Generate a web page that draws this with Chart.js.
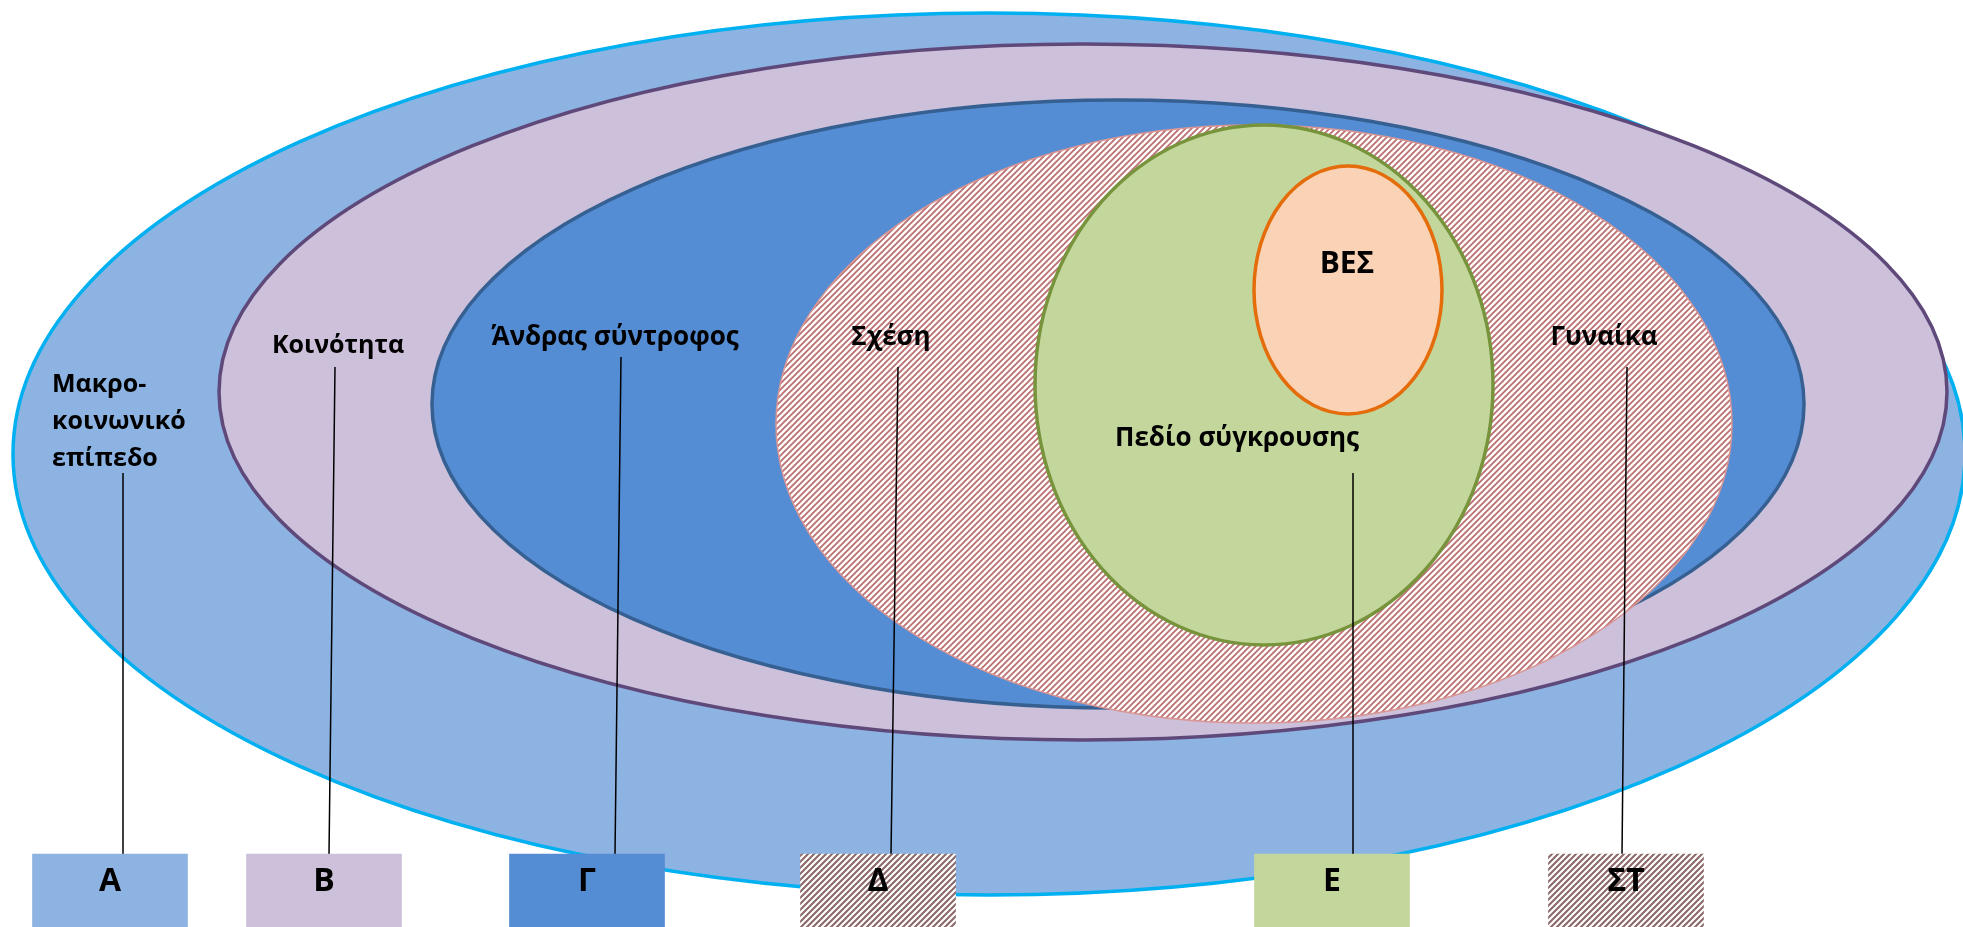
<!DOCTYPE html>
<html>
<head>
<meta charset="utf-8">
<script src="https://cdn.jsdelivr.net/npm/chart.js@4/dist/chart.umd.min.js"></script>
<style>
  html, body { margin: 0; padding: 0; background: #ffffff; }
  #wrap { width: 1963px; height: 927px; position: relative; }
</style>
</head>
<body>
<div id="wrap"><canvas id="levels"></canvas></div>
<script>
// nested levels, outermost first (units of the x/y axes)
const levelNames = ['Μακρο-κοινωνικό επίπεδο', 'Κοινότητα', 'Άνδρας σύντροφος', 'Σχέση / Γυναίκα', 'Πεδίο σύγκρουσης', 'ΒΕΣ']
const levelCx = [989, 1083, 1118, 1254, 1264, 1348]
const levelCy = [454, 392, 404, 424, 385, 290]
const levelRx = [976, 864, 686, 478, 229, 94]
const levelRy = [441, 348, 304, 299, 260, 124]

// text labels inside the ellipses
const labelText = ['Μακρο-\nκοινωνικό\nεπίπεδο', 'Κοινότητα', 'Άνδρας σύντροφος', 'Σχέση', 'Γυναίκα', 'Πεδίο σύγκρουσης', 'ΒΕΣ']
const labelX = [52, 338, 615, 891, 1604, 1237, 1347]
const labelY = [385, 346, 338, 338, 338, 439, 264]
const labelSize = [25, 25, 26, 26, 26, 26, 30]

// legend boxes and their leader lines
const boxLetters = ['Α', 'Β', 'Γ', 'Δ', 'Ε', 'ΣΤ']
const boxX = [110, 324, 587, 878, 1332, 1626]
const boxTop = [854, 854, 854, 854, 854, 854]
const boxBottom = [940, 940, 940, 940, 940, 940]
const leaderTopX = [123, 335, 621, 898, 1353, 1627]
const leaderTopY = [473, 367, 357, 367, 473, 367]
const leaderBottomX = [123, 329, 615, 891, 1353, 1622]

function hatch(color, size, lw) {
    const c = document.createElement('canvas')
    c.width = size; c.height = size
    const g = c.getContext('2d')
    g.fillStyle = '#ffffff'
    g.fillRect(0, 0, size, size)
    g.strokeStyle = color
    g.lineWidth = lw
    g.beginPath()
    g.moveTo(-1, size + 1); g.lineTo(size + 1, -1)
    g.moveTo(-2, 2); g.lineTo(2, -2)
    g.moveTo(size - 2, size + 2); g.lineTo(size + 2, size - 2)
    g.stroke()
    return g.createPattern(c, 'repeat')
}

const redHatch = hatch('#bd7172', 6, 1.9)
const brownHatch = hatch('#8a6968', 6, 2.1)

const fillColors = ['#8db3e2', '#ccc0da', '#548dd4', redHatch, '#c3d69b', '#fad3b6']
const strokeColors = ['#00b0f0', '#5f497a', '#366092', '#d99694', '#77933c', '#e46c0a']
const strokeWidths = [3.5, 3.5, 3.5, 1.5, 3.5, 3.5]
const boxColors = ['#8db3e2', '#ccc0da', '#548dd4', brownHatch, '#c3d69b', brownHatch]

const ellipses = {
    id: 'ellipses',
    beforeDatasetsDraw(chart) {
        const ctx = chart.ctx, x = chart.scales.x, y = chart.scales.y
        levelCx.forEach((cx, i) => {
            const px = x.getPixelForValue(cx)
            const py = y.getPixelForValue(levelCy[i])
            const rx = Math.abs(x.getPixelForValue(cx + levelRx[i]) - px)
            const ry = Math.abs(y.getPixelForValue(levelCy[i] + levelRy[i]) - py)
            ctx.save()
            ctx.beginPath()
            ctx.ellipse(px, py, rx, ry, 0, 0, Math.PI * 2)
            ctx.fillStyle = fillColors[i]
            ctx.fill()
            ctx.lineWidth = strokeWidths[i]
            ctx.strokeStyle = strokeColors[i]
            ctx.stroke()
            ctx.restore()
        })
    },
    afterDatasetsDraw(chart) {
        const ctx = chart.ctx, x = chart.scales.x, y = chart.scales.y
        ctx.save()
        ctx.fillStyle = '#000000'
        ctx.textBaseline = 'middle'
        labelText.forEach((t, i) => {
            const lines = t.split('\n')
            ctx.font = 'bold ' + labelSize[i] + 'px "Open Sans"'
            ctx.textAlign = lines.length > 1 ? 'left' : 'center'
            lines.forEach((l, j) => {
                ctx.fillText(l, x.getPixelForValue(labelX[i]), y.getPixelForValue(labelY[i] + j * 37))
            })
        })
        ctx.font = 'bold 32px "Open Sans"'
        ctx.textAlign = 'center'
        boxLetters.forEach((l, i) => {
            ctx.fillText(l, x.getPixelForValue(boxX[i]), y.getPixelForValue(882))
        })
        ctx.restore()
    }
}

const leaderSets = leaderTopX.map((tx, i) => ({
    type: 'line',
    data: [{x: tx, y: leaderTopY[i]}, {x: leaderBottomX[i], y: boxTop[i]}],
    borderColor: '#000000',
    borderWidth: 1.5,
    pointRadius: 0,
    fill: false,
    order: 1
}))

const chart = new Chart(document.getElementById('levels'), {
    type: 'bar',
    data: {
        datasets: [{
            type: 'bar',
            label: 'boxes',
            data: boxX.map((bx, i) => ({x: bx, y: [boxTop[i], boxBottom[i]]})),
            backgroundColor: boxColors,
            borderWidth: 0,
            barThickness: 155,
            order: 0
        }, ...leaderSets]
    },
    options: {
        responsive: true,
        maintainAspectRatio: false,
        animation: false,
        events: [],
        layout: { padding: 0 },
        plugins: { legend: { display: false }, tooltip: { enabled: false } },
        scales: {
            x: { type: 'linear', min: 0, max: 1963, offset: false, display: false },
            y: { type: 'linear', min: 0, max: 927, reverse: true, display: false }
        }
    },
    plugins: [ellipses]
})
</script>
</body>
</html>
